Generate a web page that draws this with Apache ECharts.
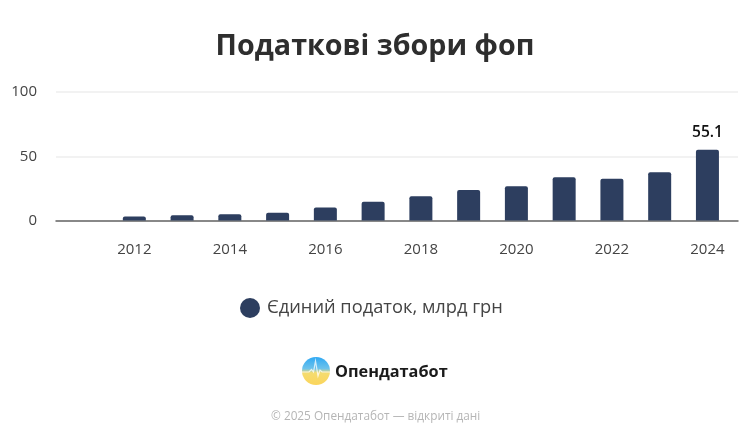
<!DOCTYPE html>
<html>
<head>
<meta charset="utf-8">
<script src="https://cdn.jsdelivr.net/npm/echarts@6/dist/echarts.min.js"></script>
<style>
  html, body { margin: 0; padding: 0; background: #fff; }
  #chart { width: 750px; height: 438px; }
</style>
</head>
<body>
<div id="chart"></div>
<script>
const years = [2012, 2013, 2014, 2015, 2016, 2017, 2018, 2019, 2020, 2021, 2022, 2023, 2024];
const taxValues = [3.1, 4.1, 4.9, 6, 10.1, 14.5, 18.9, 23.8, 26.7, 33.7, 32.4, 37.6, 55.1];
const yearTicks = [2012, 2014, 2016, 2018, 2020, 2022, 2024];
const valueTicks = [0, 50, 100];
const labelledYear = 2024;
const seriesName = 'Єдиний податок, млрд грн';
const titleText = 'Податкові збори фоп';
const brandName = 'Опендатабот';
const footerText = '© 2025 Опендатабот — відкриті дані';

const FONT = '"Open Sans", "Noto Sans", sans-serif';
const BAR = '#2d3e5f';

const chart = echarts.init(document.getElementById('chart'), null, { renderer: 'canvas' });

chart.setOption({
  animation: false,
  backgroundColor: '#ffffff',
  title: {
    text: titleText,
    left: 'center',
    top: 27,
    textStyle: { fontFamily: FONT, fontSize: 28.7, fontWeight: 'bold', color: '#2e2e2e' }
  },
  grid: { left: 56, right: 12, top: 92, height: 128.5 },
  xAxis: {
    type: 'value',
    min: 2010.36,
    max: 2024.64,
    splitLine: { show: false },
    axisLine: { show: true, lineStyle: { color: '#666666', width: 1.5 } },
    axisTick: { show: false },
    axisLabel: {
      customValues: yearTicks,
      formatter: v => String(v),
      fontFamily: FONT,
      fontSize: 15,
      color: '#444444',
      margin: 22
    }
  },
  yAxis: {
    type: 'value',
    min: 0,
    max: 100,
    interval: 50,
    axisLine: { show: false },
    axisTick: { show: false },
    splitLine: { lineStyle: { color: '#eeeeee', width: 1.5 } },
    axisLabel: {
      customValues: valueTicks,
      fontFamily: FONT,
      fontSize: 15,
      color: '#444444',
      margin: 19,
      padding: [3, 0, 0, 0]
    }
  },
  legend: {
    show: true,
    left: 235,
    top: 293,
    icon: 'circle',
    itemWidth: 20,
    itemHeight: 20,
    itemGap: 0,
    textStyle: { fontFamily: FONT, fontSize: 18.3, color: '#444444', padding: [2, 0, 0, 2] },
    data: [seriesName]
  },
  series: [{
    name: seriesName,
    type: 'bar',
    barWidth: 23,
    itemStyle: { color: BAR, borderRadius: [2, 2, 0, 0] },
    label: {
      show: true,
      position: 'top',
      distance: 9,
      fontFamily: FONT,
      fontSize: 15.5,
      fontWeight: 600,
      color: '#111111',
      formatter: p => (p.value[0] === labelledYear ? p.value[1].toFixed(1) : '')
    },
    data: years.map((y, i) => [y, taxValues[i]])
  }],
  graphic: [
    // Brand mark: sky-to-wheat disc with a pale pulse trace
    {
      type: 'circle',
      shape: { cx: 316, cy: 371, r: 14 },
      style: {
        fill: new echarts.graphic.LinearGradient(0, 0, 0, 1, [
          { offset: 0, color: '#2fa9f4' },
          { offset: 0.42, color: '#6fc3ea' },
          { offset: 0.56, color: '#f4dc70' },
          { offset: 1, color: '#fbd55c' }
        ])
      }
    },
    {
      type: 'polyline',
      shape: {
        points: [[302, 372], [309, 372], [311.5, 369.5], [313.5, 372], [315.5, 361], [318, 376], [320, 370], [322, 372], [330, 372]]
      },
      style: { stroke: '#ffffff', lineWidth: 1.2, opacity: 0.75, fill: null }
    },
    {
      type: 'text',
      left: 335,
      top: 364,
      style: { text: brandName, fontFamily: FONT, fontSize: 16.3, fontWeight: 'bold', fill: '#1a1a1a' }
    },
    {
      type: 'text',
      left: 271,
      top: 411,
      style: { text: footerText, fontFamily: FONT, fontSize: 11.8, fill: '#b5b5b5' }
    }
  ]
});
</script>
</body>
</html>
